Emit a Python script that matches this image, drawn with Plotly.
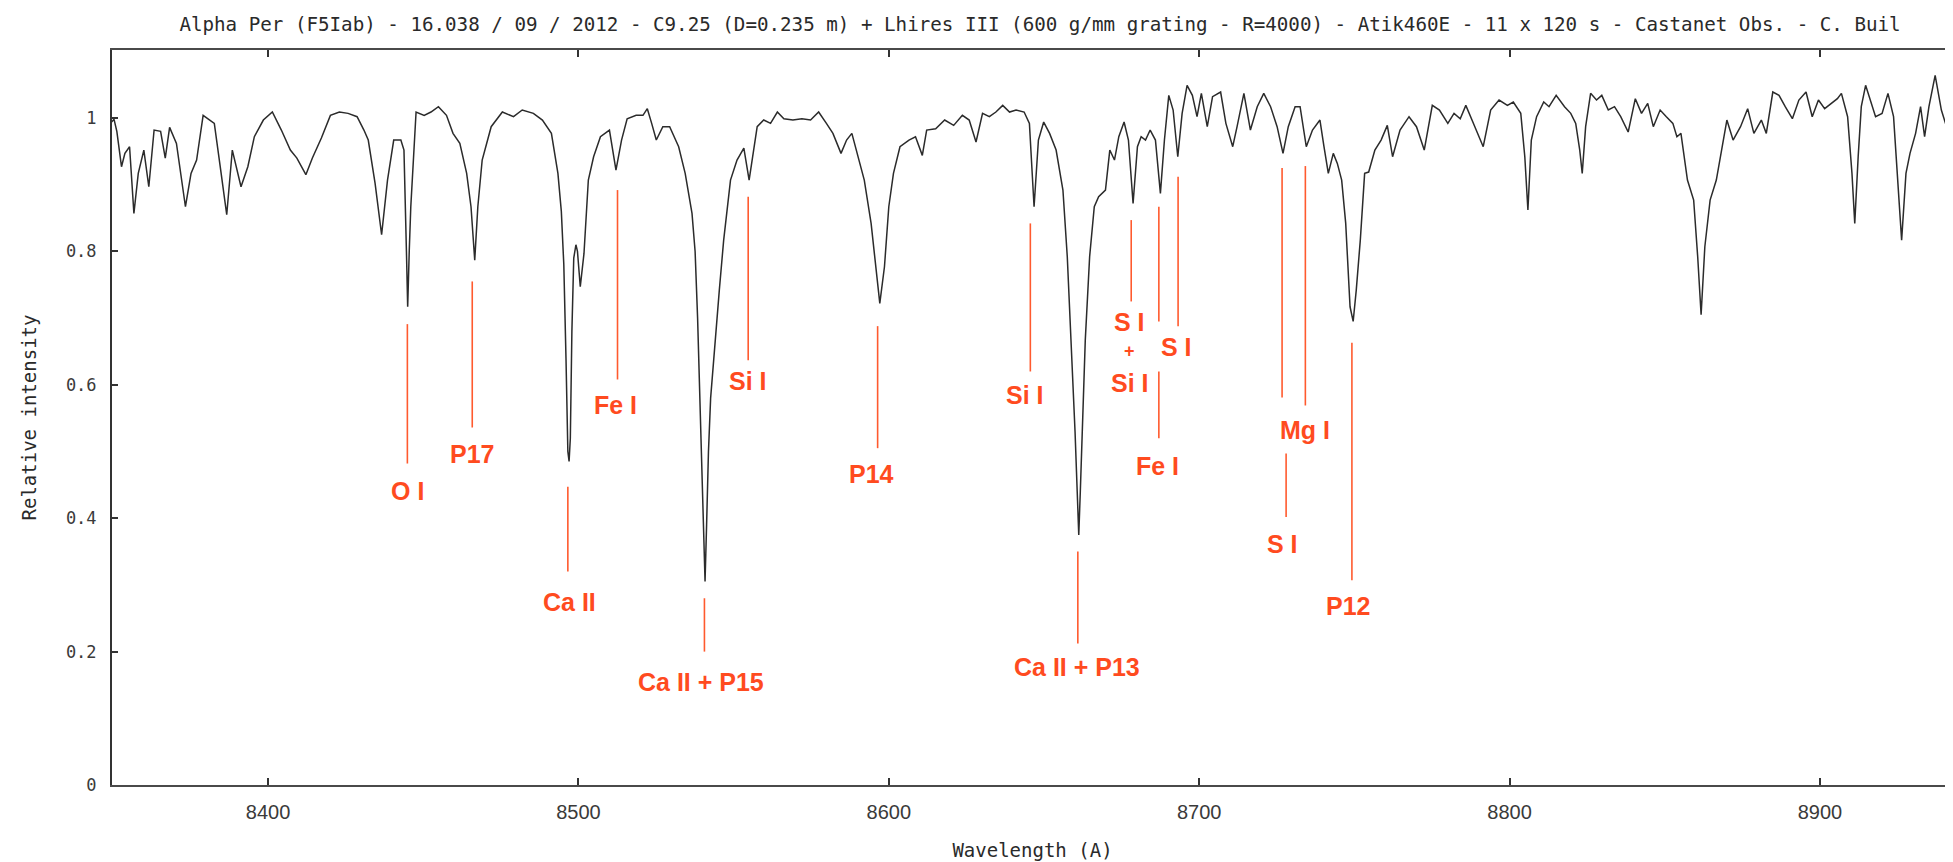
import plotly.graph_objects as go

# ---------------- data ----------------
wavelength = [
    8349.6, 8350.4, 8351.3, 8352.8, 8353.9, 8355.4, 8356.8, 8358.2, 8360.0, 8361.6,
    8363.3, 8365.4, 8366.9, 8368.3, 8370.5, 8373.4, 8375.2, 8377.0, 8379.1, 8380.5,
    8382.7, 8384.9, 8386.7, 8388.5, 8389.9, 8391.3, 8393.5, 8395.6, 8398.5, 8401.4,
    8404.3, 8407.2, 8409.3, 8412.2, 8414.3, 8417.2, 8420.1, 8423.0, 8425.8, 8428.7,
    8430.9, 8432.3, 8434.5, 8436.6, 8438.5, 8440.5, 8442.8, 8443.8, 8444.6, 8445.0,
    8445.5, 8446.0, 8447.7, 8450.3, 8452.5, 8454.9, 8457.5, 8459.6, 8461.8, 8464.0,
    8465.4, 8466.6, 8467.6, 8469.0, 8471.9, 8475.5, 8479.1, 8481.9, 8485.5, 8488.4,
    8491.3, 8493.4, 8494.5, 8495.3, 8496.0, 8496.6, 8497.0, 8497.4, 8497.9, 8498.5,
    8499.2, 8499.7, 8500.6, 8501.8, 8503.2, 8504.9, 8507.1, 8510.0, 8512.1, 8513.9,
    8515.7, 8518.6, 8520.8, 8522.2, 8523.6, 8525.1, 8527.2, 8529.4, 8532.3, 8534.4,
    8536.6, 8537.6, 8538.4, 8539.1, 8539.7, 8540.3, 8540.8, 8541.3, 8541.9, 8542.6,
    8543.2, 8545.4, 8546.8, 8549.0, 8551.1, 8553.3, 8555.0, 8556.4, 8557.6, 8559.7,
    8561.9, 8564.1, 8566.2, 8569.1, 8572.0, 8574.8, 8577.4, 8579.9, 8582.0, 8584.6,
    8586.4, 8588.1, 8590.0, 8592.1, 8594.3, 8595.7, 8597.1, 8598.6, 8600.0, 8601.5,
    8603.6, 8606.5, 8608.6, 8610.8, 8612.2, 8615.1, 8618.0, 8620.9, 8623.7, 8625.9,
    8628.1, 8630.2, 8632.4, 8634.5, 8636.7, 8638.9, 8641.0, 8643.6, 8645.3, 8646.8,
    8648.2, 8649.9, 8651.8, 8653.9, 8656.1, 8657.5, 8659.0, 8660.0, 8660.7, 8661.2,
    8661.7, 8662.3, 8663.3, 8664.7, 8666.2, 8667.6, 8669.8, 8671.2, 8672.7, 8674.1,
    8675.8, 8677.2, 8678.7, 8680.1, 8681.3, 8682.7, 8684.2, 8685.9, 8687.5, 8688.8,
    8690.2, 8691.6, 8693.1, 8694.5, 8696.1, 8697.8, 8699.3, 8700.7, 8702.6, 8704.3,
    8706.9, 8708.6, 8710.8, 8712.2, 8714.4, 8716.5, 8718.7, 8720.8, 8723.0, 8725.1,
    8727.0, 8728.7, 8730.9, 8732.5, 8734.5, 8736.5, 8738.9, 8740.2, 8741.6, 8743.2,
    8744.5, 8745.9, 8747.2, 8748.6, 8749.6, 8750.6, 8751.9, 8753.3, 8754.6, 8756.6,
    8758.6, 8760.6, 8762.3, 8764.7, 8767.6, 8770.0, 8772.5, 8775.1, 8777.4, 8780.1,
    8782.1, 8784.1, 8785.9, 8788.8, 8791.5, 8793.9, 8796.6, 8799.3, 8801.2, 8803.6,
    8804.9, 8805.9, 8807.0, 8808.7, 8811.0, 8812.7, 8815.0, 8817.7, 8819.7, 8821.3,
    8822.6, 8823.4, 8824.5, 8826.1, 8828.0, 8829.7, 8831.8, 8833.8, 8835.8, 8838.2,
    8840.5, 8842.5, 8844.5, 8846.3, 8848.5, 8850.5, 8852.6, 8853.9, 8855.2, 8857.3,
    8859.3, 8860.6, 8861.7, 8862.9, 8864.6, 8866.6, 8868.3, 8870.0, 8872.0, 8874.4,
    8876.7, 8878.7, 8881.1, 8882.7, 8884.8, 8886.8, 8888.8, 8891.1, 8893.2, 8895.5,
    8897.5, 8899.5, 8901.5, 8903.6, 8905.6, 8906.9, 8908.9, 8910.3, 8911.2, 8912.3,
    8913.3, 8914.7, 8916.3, 8917.9, 8920.0, 8921.9, 8923.7, 8925.0, 8926.3, 8927.7,
    8929.0, 8930.8, 8932.4, 8933.7, 8935.1, 8937.1, 8939.1, 8941.1, 8942.9,
]
intensity = [
    0.994, 0.998, 0.980, 0.927, 0.947, 0.957, 0.857, 0.917, 0.952, 0.897,
    0.982, 0.980, 0.940, 0.986, 0.962, 0.867, 0.917, 0.937, 1.004, 0.999,
    0.992, 0.917, 0.855, 0.952, 0.922, 0.897, 0.927, 0.972, 0.997, 1.009,
    0.982, 0.952, 0.940, 0.915, 0.940, 0.970, 1.004, 1.009, 1.007, 1.002,
    0.982, 0.967, 0.902, 0.825, 0.907, 0.967, 0.967, 0.952, 0.800, 0.717,
    0.800, 0.867, 1.009, 1.004, 1.009, 1.017, 1.004, 0.977, 0.962, 0.917,
    0.867, 0.787, 0.867, 0.937, 0.987, 1.009, 1.002, 1.012, 1.007, 0.997,
    0.977, 0.917, 0.860, 0.780, 0.640, 0.500, 0.485, 0.520, 0.680, 0.790,
    0.810, 0.800, 0.747, 0.797, 0.907, 0.942, 0.972, 0.982, 0.922, 0.967,
    0.999, 1.004, 1.004, 1.014, 0.992, 0.967, 0.987, 0.987, 0.957, 0.917,
    0.857, 0.800, 0.700, 0.590, 0.480, 0.390, 0.305, 0.390, 0.500, 0.580,
    0.617, 0.742, 0.817, 0.907, 0.937, 0.955, 0.907, 0.952, 0.987, 0.997,
    0.992, 1.009, 0.999, 0.997, 0.999, 0.997, 1.009, 0.992, 0.977, 0.947,
    0.967, 0.977, 0.942, 0.907, 0.842, 0.777, 0.722, 0.777, 0.867, 0.917,
    0.957, 0.967, 0.972, 0.944, 0.982, 0.984, 0.997, 0.989, 1.004, 0.997,
    0.964, 1.007, 1.002, 1.009, 1.019, 1.009, 1.012, 1.009, 0.992, 0.867,
    0.967, 0.994, 0.977, 0.952, 0.892, 0.792, 0.642, 0.530, 0.440, 0.375,
    0.440, 0.540, 0.667, 0.792, 0.867, 0.882, 0.892, 0.952, 0.937, 0.972,
    0.994, 0.967, 0.872, 0.957, 0.972, 0.967, 0.982, 0.967, 0.887, 0.967,
    1.034, 1.012, 0.942, 1.007, 1.049, 1.034, 1.002, 1.037, 0.987, 1.032,
    1.039, 0.992, 0.957, 0.987, 1.037, 0.982, 1.017, 1.037, 1.017, 0.987,
    0.947, 0.987, 1.017, 1.017, 0.957, 0.982, 0.997, 0.957, 0.917, 0.947,
    0.932, 0.907, 0.842, 0.717, 0.695, 0.742, 0.817, 0.917, 0.919, 0.952,
    0.967, 0.989, 0.942, 0.982, 1.002, 0.987, 0.952, 1.019, 1.012, 0.992,
    1.007, 0.999, 1.019, 0.987, 0.957, 1.012, 1.027, 1.019, 1.024, 1.007,
    0.942, 0.862, 0.967, 1.002, 1.024, 1.017, 1.034, 1.017, 1.007, 0.992,
    0.952, 0.917, 0.987, 1.037, 1.027, 1.034, 1.012, 1.017, 1.002, 0.979,
    1.029, 1.007, 1.022, 0.987, 1.012, 1.002, 0.992, 0.972, 0.977, 0.907,
    0.877, 0.792, 0.705, 0.807, 0.877, 0.907, 0.952, 0.997, 0.967, 0.987,
    1.014, 0.977, 0.997, 0.977, 1.039, 1.034, 1.017, 0.999, 1.027, 1.039,
    1.002, 1.027, 1.014, 1.022, 1.029, 1.037, 1.002, 0.917, 0.842, 0.942,
    1.017, 1.049, 1.027, 1.002, 1.007, 1.037, 1.002, 0.917, 0.817, 0.917,
    0.947, 0.977, 1.017, 0.972, 1.017, 1.064, 1.012, 0.982, 0.984,
]

# identification marks (vertical segments)
mark_wl = [8444.9, 8465.8, 8496.6, 8512.6, 8540.6, 8554.7, 8596.4, 8645.6, 8660.9,
           8678.1, 8687.0, 8687.0, 8693.2, 8726.7, 8728.0, 8734.2, 8749.2]
mark_top = [0.691, 0.755, 0.447, 0.892, 0.280, 0.882, 0.688, 0.842, 0.350,
            0.847, 0.867, 0.620, 0.912, 0.925, 0.497, 0.928, 0.663]
mark_bottom = [0.482, 0.536, 0.320, 0.608, 0.200, 0.637, 0.505, 0.620, 0.212,
               0.725, 0.695, 0.520, 0.688, 0.581, 0.402, 0.569, 0.307]

label_text = ["O I", "P17", "Ca II", "Fe I", "Ca II + P15", "Si I", "P14", "Si I",
              "Ca II + P13", "S I", "+", "Si I", "S I", "Fe I", "Mg I", "S I", "P12"]
label_wl = [8444.9, 8465.7, 8497.0, 8512.1, 8539.5, 8554.7, 8594.4, 8643.9,
            8660.6, 8677.7, 8677.5, 8677.7, 8692.8, 8686.7, 8734.1, 8726.7, 8747.9]
label_y = [0.441, 0.497, 0.274, 0.570, 0.155, 0.605, 0.466, 0.584,
           0.177, 0.694, 0.650, 0.602, 0.656, 0.479, 0.532, 0.361, 0.268]

x_ticks = [8400, 8500, 8600, 8700, 8800, 8900]
y_ticks = [0, 0.2, 0.4, 0.6, 0.8, 1]
y_tick_text = ["0", "0.2", "0.4", "0.6", "0.8", "1"]

title_text = ("Alpha Per (F5Iab) - 16.038 / 09 / 2012 - C9.25 (D=0.235 m) + Lhires III "
              "(600 g/mm grating - R=4000) - Atik460E - 11 x 120 s - Castanet Obs. - C. Buil")

# ---------------- figure ----------------
MARK_COLOR = "#ff5a2e"
LABEL_COLOR = "#ff4b1f"
FIG_W, FIG_H = 1945, 854   # page body adds an 8 px margin

fig = go.Figure()
fig.add_trace(go.Scatter(
    x=wavelength, y=intensity, mode="lines",
    line=dict(color="#2b2b2b", width=1.5),
    hoverinfo="skip", showlegend=False,
))

for wl, top, bot in zip(mark_wl, mark_top, mark_bottom):
    fig.add_shape(type="line", xref="x", yref="y", x0=wl, x1=wl, y0=bot, y1=top,
                  line=dict(color=MARK_COLOR, width=1.6))

for txt, wl, yv in zip(label_text, label_wl, label_y):
    fig.add_annotation(x=wl, y=yv, xref="x", yref="y", text=txt, showarrow=False,
                       xanchor="center", yanchor="middle",
                       font=dict(family="Liberation Sans, Arial, sans-serif",
                                 size=18 if txt == "+" else 25,
                                 color=LABEL_COLOR, weight="bold"))

fig.update_layout(
    width=FIG_W, height=FIG_H,
    margin=dict(l=104, r=0, t=42, b=77),
    paper_bgcolor="white", plot_bgcolor="white",
    title=dict(text=title_text, x=1032 / FIG_W, xanchor="center", xref="container",
               y=1 - 16 / FIG_H, yanchor="middle", yref="container",
               font=dict(family="DejaVu Sans Mono, monospace", size=19.2, color="#2a2a2a")),
    showlegend=False,
)
fig.update_xaxes(
    range=[8349.74, 8942.85], tickvals=x_ticks, ticktext=[str(t) for t in x_ticks],
    ticks="inside", ticklen=7, tickwidth=1.5, tickcolor="#333",
    showline=True, linecolor="#4a4a4a", linewidth=2, mirror="ticks",
    showgrid=False, zeroline=False, ticklabelstandoff=8,
    tickfont=dict(family="Liberation Sans, Arial, sans-serif", size=20, color="#3a3a3a"),
    title=dict(text="Wavelength (A)", standoff=22,
               font=dict(family="DejaVu Sans Mono, monospace", size=19, color="#2a2a2a")),
)
fig.update_yaxes(
    range=[0, 1.102], tickvals=y_ticks, ticktext=y_tick_text,
    ticks="inside", ticklen=6, tickwidth=1.5, tickcolor="#333",
    showline=True, linecolor="#333", linewidth=2, mirror=False,
    showgrid=False, zeroline=False, ticklabelstandoff=10,
    tickfont=dict(family="DejaVu Sans Mono, monospace", size=17, color="#3a3a3a"),
    title=dict(text="Relative intensity", standoff=24,
               font=dict(family="DejaVu Sans Mono, monospace", size=19, color="#2a2a2a")),
)

fig.write_html("out.html")
